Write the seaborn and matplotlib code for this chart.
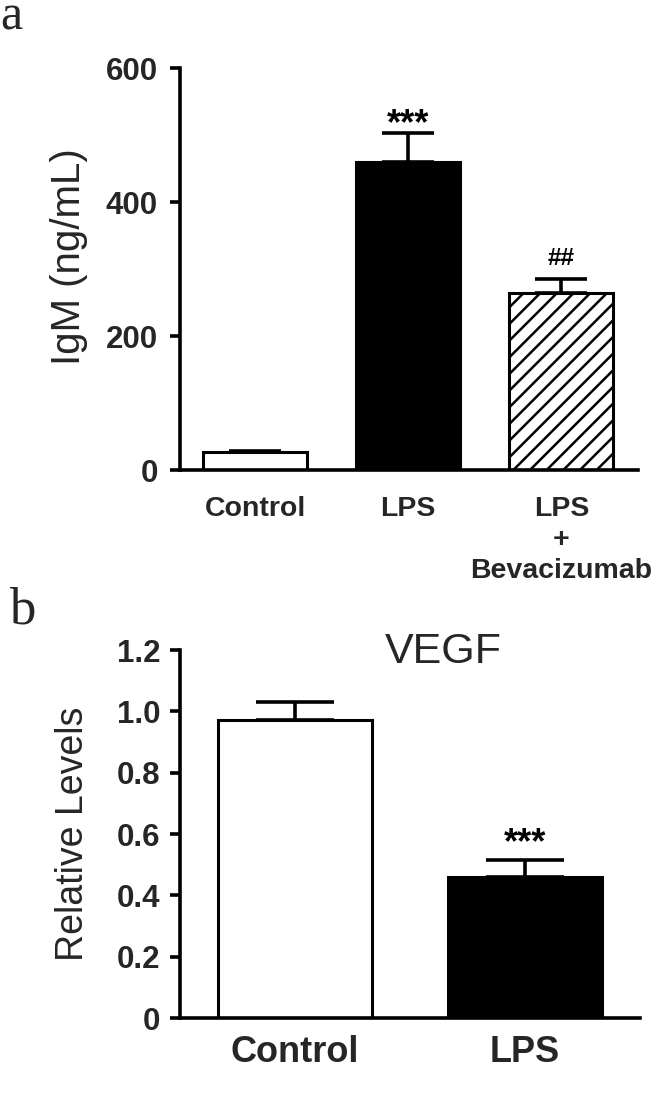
import matplotlib
matplotlib.use("Agg")
import matplotlib.pyplot as plt
import seaborn as sns
import numpy as np

sns.set_theme(style="white")
plt.rcParams['font.family'] = ['Liberation Sans', 'DejaVu Sans']
plt.rcParams['hatch.linewidth'] = 1.8

# Panel a data
a_categories = ["Control", "LPS", "LPS\n+\nBevacizumab"]
a_values = [27, 460, 264]
a_errors = [2, 43, 21]
a_yticks = [0, 200, 400, 600]
a_annot = ["", "***", "##"]

# Panel b data
b_categories = ["Control", "LPS"]
b_values = [0.972, 0.46]
b_errors = [0.058, 0.055]
b_yticks = [0, 0.2, 0.4, 0.6, 0.8, 1.0, 1.2]
b_yticklabels = ["0", "0.2", "0.4", "0.6", "0.8", "1.0", "1.2"]
b_annot = ["", "***"]

W, H = 657, 1115
fig = plt.figure(figsize=(W / 100, H / 100), dpi=100)

def px_axes(left, right, top, bottom):
    return fig.add_axes([left / W, 1 - bottom / H, (right - left) / W, (bottom - top) / H])

ax_a = px_axes(180, 638, 68, 470)
ax_b = px_axes(180, 640, 650, 1018)

def style_axes(ax):
    for s in ["top", "right"]:
        ax.spines[s].set_visible(False)
    for s in ["left", "bottom"]:
        ax.spines[s].set_linewidth(2.6)
        ax.spines[s].set_color("black")

# ---- Panel a ----
sns.barplot(x=a_categories, y=a_values, ax=ax_a, width=0.68, color="white",
            edgecolor="black", linewidth=2.2, errorbar=None, saturation=1)
fills_a = ["white", "black", "white"]
for p, fc in zip(ax_a.patches, fills_a):
    p.set_facecolor(fc)
ax_a.patches[2].set_hatch("//")
xa = np.arange(len(a_values))
ax_a.errorbar(xa, a_values, yerr=[np.zeros(len(a_errors)), a_errors], fmt="none",
              ecolor="black", elinewidth=2.6, capsize=19, capthick=2.6, zorder=1)
ax_a.set_ylim(0, 600)
ax_a.set_xlim(-0.49, 2.50)
ax_a.set_yticks(a_yticks)
ax_a.set_yticklabels([str(t) for t in a_yticks], fontsize=22.5, fontweight="bold")
ax_a.set_xticks(xa)
ax_a.set_xticklabels(a_categories, fontsize=20.5, fontweight="bold", linespacing=1.25)
ax_a.tick_params(axis="y", length=7, width=2.6, pad=9, left=True, color="black")
ax_a.tick_params(axis="x", length=0, pad=18.5)
ax_a.set_ylabel("IgM (ng/mL)", fontsize=29)
ax_a.yaxis.set_label_coords(-0.201, 0.53)
style_axes(ax_a)
annot_offsets_a = {"***": -0.7, "##": 10}
annot_sizes = {"***": 26, "##": 17.5}
for x, v, e, t in zip(xa, a_values, a_errors, a_annot):
    if t:
        ax_a.annotate(t, xy=(x, v + e), xytext=(0, annot_offsets_a[t]),
                      textcoords="offset points", ha="center", va="baseline",
                      fontsize=annot_sizes[t], fontweight="bold", color="black")

# ---- Panel b ----
sns.barplot(x=b_categories, y=b_values, ax=ax_b, width=0.67, color="white",
            edgecolor="black", linewidth=2.2, errorbar=None, saturation=1)
fills_b = ["white", "black"]
for p, fc in zip(ax_b.patches, fills_b):
    p.set_facecolor(fc)
xb = np.arange(len(b_values))
ax_b.errorbar(xb, b_values, yerr=[np.zeros(len(b_errors)), b_errors], fmt="none",
              ecolor="black", elinewidth=2.6, capsize=28, capthick=2.6, zorder=1)
ax_b.set_ylim(0, 1.2)
ax_b.set_xlim(-0.50, 1.50)
ax_b.set_yticks(b_yticks)
ax_b.set_yticklabels(b_yticklabels, fontsize=22.5, fontweight="bold")
ax_b.set_xticks(xb)
ax_b.set_xticklabels(b_categories, fontsize=26, fontweight="bold")
ax_b.tick_params(axis="y", length=7, width=2.6, pad=7, left=True, color="black")
ax_b.tick_params(axis="x", length=0, pad=12)
ax_b.set_ylabel("Relative Levels", fontsize=27)
ax_b.yaxis.set_label_coords(-0.193, 0.5)
ax_b.text(0.572, 0.995, "VEGF", transform=ax_b.transAxes, ha="center", va="center",
          fontsize=31)
style_axes(ax_b)
for x, v, e, t in zip(xb, b_values, b_errors, b_annot):
    if t:
        ax_b.annotate(t, xy=(x, v + e), xytext=(0, 5), textcoords="offset points",
                      ha="center", va="baseline", fontsize=26, fontweight="bold",
                      color="black")

# Panel letters
fig.text(0 / W, 1 - 30 / H, "a", fontsize=36, family="Liberation Serif",
         ha="left", va="baseline")
fig.text(9 / W, 1 - 623 / H, "b", fontsize=38, family="Liberation Serif",
         ha="left", va="baseline")

fig.savefig("out.png", dpi=100, facecolor="white")
